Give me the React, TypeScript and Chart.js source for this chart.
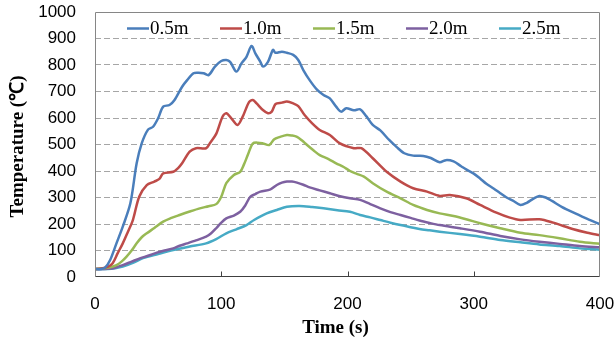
import React, { useEffect, useRef } from "react";
import { Chart, registerables } from "chart.js";

Chart.register(...registerables);

const seriesNames = ["0.5m", "1.0m", "1.5m", "2.0m", "2.5m"];
const seriesColors = ["#4A7EBB", "#BE4B48", "#98B954", "#7D60A0", "#46AAC5"];

const xTicks = [0, 100, 200, 300, 400];
const yTicks = [0, 100, 200, 300, 400, 500, 600, 700, 800, 900, 1000];

const t05 = [0, 5, 8, 12, 17, 22, 28, 33, 37, 42, 46, 50, 54, 59, 63, 69, 73, 78, 82, 86, 90, 95, 100, 104, 107, 112, 116, 120, 124, 127, 131, 133, 137, 141, 143, 148, 152, 157, 161, 165, 170, 176, 181, 186, 191, 195, 199, 205, 210, 215, 220, 226, 233, 239, 245, 252, 260, 266, 273, 278, 284, 290, 294, 300, 305, 310, 316, 321, 326, 331, 337, 342, 347, 352, 357, 362, 370, 380, 390, 400];
const v05 = [30, 30, 35, 64, 127, 190, 278, 429, 504, 556, 567, 599, 643, 649, 668, 718, 743, 769, 771, 769, 762, 794, 815, 819, 812, 775, 806, 831, 872, 844, 812, 794, 812, 857, 846, 850, 846, 838, 819, 781, 743, 706, 687, 674, 643, 624, 637, 629, 633, 606, 574, 553, 517, 490, 467, 458, 457, 449, 433, 441, 436, 418, 406, 390, 372, 352, 333, 316, 300, 288, 272, 280, 295, 306, 300, 287, 264, 241, 219, 199];

const t10 = [0, 5, 10, 14, 18, 22, 26, 30, 35, 41, 47, 51, 54, 62, 66, 69, 75, 80, 88, 91, 96, 101, 104, 108, 113, 117, 122, 125, 128, 133, 137, 140, 143, 148, 152, 157, 161, 166, 172, 178, 186, 194, 205, 211, 220, 231, 242, 252, 263, 273, 281, 294, 305, 318, 328, 337, 352, 363, 379, 390, 400];
const v10 = [30, 32, 38, 52, 90, 127, 170, 215, 303, 347, 360, 370, 391, 397, 412, 429, 473, 486, 486, 505, 540, 605, 618, 599, 574, 605, 660, 668, 655, 630, 618, 624, 653, 658, 662, 655, 645, 611, 580, 555, 536, 504, 486, 486, 448, 397, 360, 335, 322, 306, 309, 297, 272, 243, 225, 215, 218, 205, 180, 167, 158];

const t15 = [0, 7, 12, 17, 21, 25, 29, 33, 37, 41, 47, 54, 60, 67, 75, 83, 90, 96, 100, 104, 110, 115, 118, 121, 125, 129, 133, 138, 142, 146, 152, 156, 160, 164, 168, 173, 178, 185, 191, 197, 202, 207, 213, 220, 231, 242, 252, 263, 273, 284, 294, 305, 321, 337, 352, 368, 384, 400];
const v15 = [30, 33, 37, 45, 58, 77, 100, 127, 150, 165, 185, 209, 222, 234, 247, 259, 267, 275, 303, 354, 385, 397, 425, 460, 504, 507, 504, 498, 520, 528, 536, 534, 529, 515, 498, 478, 460, 445, 429, 415, 400, 390, 379, 354, 322, 297, 272, 253, 240, 230, 218, 203, 184, 167, 158, 146, 133, 125];

const t20 = [0, 10, 16, 22, 29, 36, 42, 49, 55, 62, 67, 73, 80, 88, 92, 96, 100, 104, 110, 115, 119, 123, 127, 131, 139, 144, 148, 152, 156, 160, 165, 170, 178, 186, 194, 202, 210, 218, 226, 234, 242, 250, 257, 265, 273, 289, 305, 321, 337, 352, 368, 384, 400];
const v20 = [30, 31, 35, 45, 58, 71, 80, 92, 100, 108, 118, 127, 138, 152, 165, 184, 205, 221, 232, 246, 270, 303, 313, 322, 331, 347, 356, 360, 360, 356, 348, 338, 327, 316, 305, 297, 291, 275, 259, 245, 234, 223, 213, 204, 196, 184, 171, 155, 142, 133, 125, 117, 112];

const t25 = [0, 10, 16, 22, 30, 38, 50, 62, 75, 88, 96, 104, 112, 120, 126, 136, 144, 152, 162, 172, 181, 192, 202, 210, 218, 226, 234, 242, 250, 257, 265, 273, 289, 305, 321, 337, 352, 368, 384, 400];
const v25 = [29, 30, 33, 39, 53, 71, 87, 102, 115, 127, 143, 165, 180, 196, 215, 240, 253, 265, 268, 264, 259, 252, 246, 234, 225, 215, 205, 196, 188, 181, 176, 171, 162, 152, 140, 131, 123, 117, 108, 103];

const seriesTimes = [t05, t10, t15, t20, t25];
const seriesValues = [v05, v10, v15, v20, v25];

const xTitle = "Time (s)";
const yTitle = "Temperature (℃)";

const overlayPlugin = {
  id: "overlay",
  afterDraw(chart: any) {
    const { ctx, chartArea: a, scales } = chart;
    const L = Math.round(a.left) + 0.5;
    const R = Math.round(a.right) - 0.5;
    const T = Math.round(a.top) + 0.5;
    const B = Math.round(a.bottom) - 0.5;
    ctx.save();
    ctx.lineWidth = 1;
    ctx.strokeStyle = "#868686";
    ctx.beginPath();
    ctx.moveTo(L, B);
    ctx.lineTo(L, T);
    ctx.lineTo(R, T);
    ctx.lineTo(R, B);
    ctx.stroke();
    ctx.strokeStyle = "#404040";
    ctx.beginPath();
    ctx.moveTo(L, B);
    ctx.lineTo(R, B);
    ctx.stroke();
    const xs = scales.x;
    ctx.strokeStyle = "#404040";
    for (const v of xTicks) {
      if (v === xTicks[0] || v === xTicks[xTicks.length - 1]) continue;
      const px = Math.round(xs.getPixelForValue(v)) + 0.5;
      ctx.beginPath();
      ctx.moveTo(px, B);
      ctx.lineTo(px, B - 5);
      ctx.stroke();
    }
    ctx.font = '19px "Liberation Serif"';
    ctx.textBaseline = "middle";
    ctx.textAlign = "left";
    const ly = a.top + 16.5;
    let lx = a.left + 32;
    seriesNames.forEach((name, i) => {
      ctx.strokeStyle = seriesColors[i];
      ctx.lineWidth = 2.5;
      ctx.beginPath();
      ctx.moveTo(lx, ly);
      ctx.lineTo(lx + 22, ly);
      ctx.stroke();
      ctx.fillStyle = "#000";
      ctx.fillText(name, lx + 23, ly + 1);
      lx += 93;
    });
    ctx.font = 'bold 19px "Liberation Serif"';
    ctx.textAlign = "center";
    ctx.fillStyle = "#000";
    ctx.fillText(xTitle, (a.left + a.right) / 2 - 12, 328);
    ctx.translate(18, (a.top + a.bottom) / 2 + 2);
    ctx.rotate(-Math.PI / 2);
    ctx.fillText(yTitle, 0, 0);
    ctx.restore();
  },
};

export default function App() {
  const ref = useRef<HTMLCanvasElement | null>(null);
  useEffect(() => {
    if (!ref.current) return;
    const chart = new Chart(ref.current, {
      type: "line",
      data: {
        datasets: seriesNames.map((name, i) => ({
          label: name,
          data: seriesTimes[i].map((t, j) => ({ x: t, y: seriesValues[i][j] })),
          borderColor: seriesColors[i],
          backgroundColor: seriesColors[i],
          borderWidth: 2.5,
          pointRadius: 0,
          tension: 0.3,
          fill: false,
        })),
      },
      options: {
        responsive: false,
        animation: false,
        layout: { padding: { left: 0, top: 12, right: 16, bottom: 0 } },
        plugins: { legend: { display: false }, tooltip: { enabled: false } },
        scales: {
          x: {
            type: "linear",
            min: 0,
            max: 400,
            afterBuildTicks: (s: any) => {
              s.ticks = xTicks.map((v) => ({ value: v }));
            },
            afterFit: (s: any) => {
              s.height = 68;
              s.paddingLeft = 0;
              s.paddingRight = 0;
            },
            ticks: {
              color: "#000",
              font: { family: "Liberation Sans", size: 17 },
              padding: 17,
              maxRotation: 0,
              callback: (v: any) => String(v),
            },
            grid: { display: false, drawTicks: false },
            border: { display: false },
          },
          y: {
            min: 0,
            max: 1000,
            afterBuildTicks: (s: any) => {
              s.ticks = yTicks.map((v) => ({ value: v }));
            },
            afterFit: (s: any) => {
              s.width = 95;
              s.paddingTop = 0;
              s.paddingBottom = 0;
            },
            ticks: {
              color: "#000",
              font: { family: "Liberation Sans", size: 17 },
              padding: 19,
              callback: (v: any) => String(v),
            },
            grid: {
              drawTicks: false,
              lineWidth: 1,
              color: (c: any) =>
                c.tick && (c.tick.value === 0 || c.tick.value === 1000) ? "rgba(0,0,0,0)" : "#a6a6a6",
              borderDash: [6, 3],
            } as any,
            border: { display: false, dash: [6, 3] },
          },
        },
      },
      plugins: [overlayPlugin],
    } as any);
    return () => chart.destroy();
  }, []);
  return (
    <div style={{ position: "absolute", left: 0, top: 0, width: 616, height: 345, background: "#fff" }}>
      <canvas ref={ref} width={616} height={345} style={{ display: "block" }} />
    </div>
  );
}
